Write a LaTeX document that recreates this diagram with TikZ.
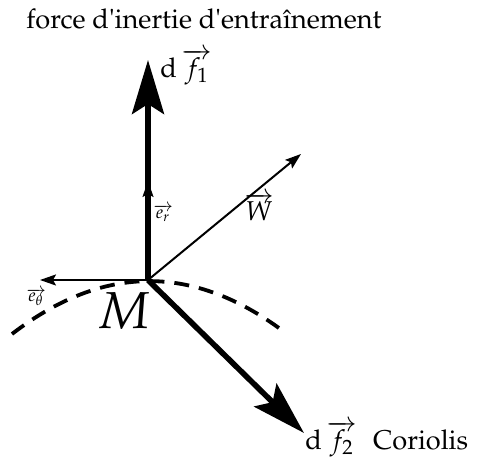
\documentclass[tikz,border=0pt]{standalone}
\usepackage[T1]{fontenc}
\usepackage{textcomp}
\usepackage{mathpazo}
\usetikzlibrary{arrows.meta}
\tikzset{
  bigvec/.style={line width=2.8pt,-{Stealth[length=27pt,width=16pt,inset=5pt]}},
  thinvec/.style={line width=1pt,-{Stealth[length=8pt,width=5.5pt,inset=1.5pt]}},
  lab/.style={inner sep=0pt,font=\fontsize{13.6}{16}\selectfont},
  smalllab/.style={inner sep=0pt,font=\fontsize{9}{11}\selectfont},
  arcdash/.style={line width=1.9pt,dash pattern=on 7.5pt off 5pt}
}
\begin{document}
\begin{tikzpicture}[x=0.5pt,y=-0.5pt]
\useasboundingbox (0,0) rectangle (488,459);
\coordinate (M) at (148,280);
\coordinate (F1) at (148,60);
\coordinate (ER) at (148,181);
\coordinate (W) at (301,154);
\coordinate (ET) at (40,280);
\coordinate (F2) at (304,433);
\coordinate (A0) at (12,334);
\coordinate (A1) at (283,331);
\draw[arcdash] (A0) .. controls (103,264) and (193,264) .. (A1);
\draw[bigvec] (M) -- (F1);
\draw[bigvec] (M) -- (F2);
\draw[thinvec] (M) -- (ER);
\draw[thinvec] (M) -- (W);
\draw[thinvec] (M) -- (ET);
\node[lab] (title) at (204,19) {force d\textquotesingle inertie d\textquotesingle entraînement};
\node[lab,anchor=west] (lf1) at (160,67) {d\,$\overrightarrow{f_1}$};
\node[lab,anchor=west] (lf2) at (305,439) {d\,$\overrightarrow{f_2}$\hspace{8pt}Coriolis};
\node[smalllab] (ler) at (163,213) {$\overrightarrow{e_r}$};
\node[smalllab] (let) at (36,297) {$\overrightarrow{e_\theta}$};
\node[lab] (lw) at (259,207) {$\overrightarrow{W}$};
\node[inner sep=0pt,font=\fontsize{26}{30}\selectfont] (lM) at (124,311) {$M$};
\end{tikzpicture}
\end{document}
